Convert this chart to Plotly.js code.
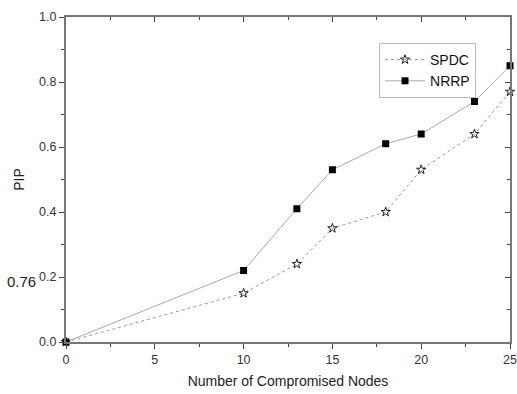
<!DOCTYPE html>
<html><head><meta charset="utf-8">
<script src="https://cdn.plot.ly/plotly-3.0.1.min.js"></script>
<style>html,body{margin:0;padding:0;background:#fff}#c{width:517px;height:394px}</style>
</head><body><div id="c"></div>
<script>
var xNodes = [0, 10, 13, 15, 18, 20, 23, 25];
var spdc = [0, 0.15, 0.24, 0.35, 0.40, 0.53, 0.64, 0.77];
var nrrp = [0, 0.22, 0.41, 0.53, 0.61, 0.64, 0.74, 0.85];
var xTicks = [0, 5, 10, 15, 20, 25];
var yTicks = [0, 0.2, 0.4, 0.6, 0.8, 1.0];
var yTickText = ['0.0', '0.2', '0.4', '0.6', '0.8', '1.0'];

var F = 'Liberation Sans, Arial, sans-serif';
var traces = [
  {x: xNodes, y: spdc, name: 'SPDC', mode: 'lines+markers', cliponaxis: false,
   line: {color: '#999', width: 1, dash: 'dot'},
   marker: {symbol: 'star-open', size: 7, color: '#222', line: {color: '#222', width: 1}}},
  {x: xNodes, y: nrrp, name: 'NRRP', mode: 'lines+markers', cliponaxis: false,
   line: {color: '#aaa', width: 1},
   marker: {symbol: 'square', size: 7, color: '#000'}},
  {x: [0, 25], y: [0, 0], xaxis: 'x2', yaxis: 'y2', mode: 'none', showlegend: false, hoverinfo: 'skip'}
];
var layout = {
  width: 517, height: 394,
  margin: {l: 66, r: 7, t: 17, b: 52},
  paper_bgcolor: '#fff', plot_bgcolor: '#fff',
  font: {family: F, color: '#333', size: 12},
  showlegend: true,
  legend: {x: 0.705, y: 0.92, xanchor: 'left', yanchor: 'top', bgcolor: '#fff',
           bordercolor: '#bbb', borderwidth: 1, font: {family: F, size: 14, color: '#111'},
           tracegroupgap: 0, itemwidth: 40},
  xaxis: {range: [0, 25], tickvals: xTicks, ticks: 'outside', ticklen: 5, tickwidth: 1,
          tickcolor: '#444', showgrid: false, zeroline: false, showline: true,
          linecolor: '#777', linewidth: 2, tickfont: {size: 12.5},
          minor: {dtick: 2.5, ticks: 'outside', ticklen: 3, tickcolor: '#444'},
          title: {text: 'Number of Compromised Nodes', font: {family: F, size: 14, color: '#222'}, standoff: 10}},
  yaxis: {range: [0, 1], tickvals: yTicks, ticktext: yTickText, ticks: 'outside', ticklen: 5,
          tickwidth: 1, tickcolor: '#444', showgrid: false, zeroline: false, showline: true,
          linecolor: '#777', linewidth: 2, tickfont: {size: 12.5},
          minor: {dtick: 0.1, ticks: 'outside', ticklen: 3, tickcolor: '#444'},
          title: {text: 'PIP', font: {family: F, size: 14, color: '#222'}, standoff: 11}},
  xaxis2: {overlaying: 'x', side: 'top', range: [0, 25], tickvals: xTicks, ticks: 'inside',
           ticklen: 5, tickcolor: '#444', showticklabels: false, showgrid: false, zeroline: false,
           showline: true, linecolor: '#777', linewidth: 2,
           minor: {dtick: 2.5, ticks: 'inside', ticklen: 3, tickcolor: '#444'}},
  yaxis2: {overlaying: 'y', side: 'right', range: [0, 1], tickvals: yTicks, ticks: 'inside',
           ticklen: 5, tickcolor: '#444', showticklabels: false, showgrid: false, zeroline: false,
           showline: true, linecolor: '#777', linewidth: 2,
           minor: {dtick: 0.1, ticks: 'inside', ticklen: 3, tickcolor: '#444'}},
  annotations: [{text: '0.76', xref: 'paper', yref: 'paper', x: -0.062, y: 0.185,
                 xanchor: 'right', yanchor: 'middle', showarrow: false,
                 font: {family: F, size: 15, color: '#222'}}]
};
Plotly.newPlot('c', traces, layout, {displayModeBar: false, staticPlot: true});
</script></body></html>
